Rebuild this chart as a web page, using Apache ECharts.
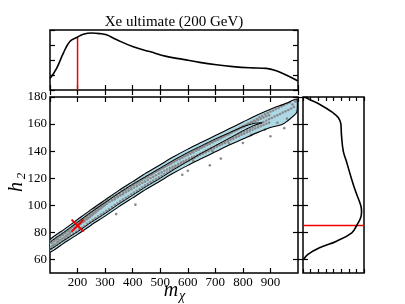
<!DOCTYPE html>
<html>
<head>
<meta charset="utf-8">
<script src="https://cdn.jsdelivr.net/npm/echarts@6/dist/echarts.min.js"></script>
<style>
html,body{margin:0;padding:0;background:#fff;}
#chart{width:405px;height:304px;}
</style>
</head>
<body>
<div id="chart"></div>
<script>
// ---------- data ----------
const titleText = 'Xe ultimate (200 GeV)';
const xTickLabels = [200, 300, 400, 500, 600, 700, 800, 900];
const yTickValues = [60, 80, 100, 120, 140, 160, 180];
const trueMass = 200;
const trueH2 = 85;

// top marginal density over m_chi (normalised)
const topX = [100,124,148,172,199,221,251,281,305,341,402,462,522,583,643,704,764,825,885,921,957,1000];
const topY = [0.19,0.36,0.61,0.81,0.88,0.93,0.95,0.94,0.92,0.84,0.72,0.64,0.56,0.51,0.46,0.42,0.39,0.37,0.36,0.32,0.25,0.15];

// right marginal density over h2 (normalised)
const rightH = [180,178.3,174.6,168.4,164.7,160.3,152.4,140,132.7,120.4,110.5,100.2,95.7,90.8,85.1,79.7,73.5,68.6,63.7,60];
const rightD = [0.03,0.10,0.27,0.49,0.58,0.62,0.63,0.66,0.71,0.79,0.86,0.945,0.96,0.945,0.88,0.80,0.55,0.27,0.08,0.01];

// outer (2 sigma) region
const outerX     = [100,150,200,250,300,350,400,450,500,550,600,650,700,750,800,850,900,940,960,995];
const outerUpper = [74.5,82,89.5,97,104,111,117.5,124,130,136,141.5,146.5,151.5,156.5,161.5,166.5,171,174,175.5,178.5];
const outerLower = [65.5,72,78.5,85.5,92,99,105.5,112,118,124,129.5,134.5,139.5,144.5,149,153.5,157.5,159.5,162,168.5];

// inner (1 sigma) region
const innerX     = [100,150,200,250,300,350,400,450,500,550,600,650,700,750,800,840,870];
const innerUpper = [72.5,80,87.5,95,102,109,115.5,121.5,127.5,133.5,139,144,149,153.5,158,160.5,161];
const innerLower = [67.5,74,80.5,87.5,94,101,107.5,114,120,126.5,132.5,138.5,144,149.5,155,159,161];

// posterior samples (m_chi, h2)
const samples = [
[105,69.5],[108,72],[112,70.2],[115,73.5],[118,71],[122,74.8],[125,72.5],[128,75],[131,73.2],[135,76.5],
[138,74.6],[142,77.8],[145,75.5],[148,78.3],[152,76.2],[155,79.6],[158,77.4],[162,80.8],[165,78.5],[168,81.5],
[172,79.8],[175,83],[178,80.6],[182,84.2],[185,82],[188,85.5],[192,83.1],[195,86.6],[198,84.2],[202,87],
[205,85.1],[208,88.2],[212,86.3],[215,89.4],[218,87.5],[222,90.2],[225,88.1],[228,91.5],[232,89.6],[235,92.7],
[238,90.5],[242,93.6],[245,91.4],[248,94.8],[252,92.6],[255,95.3],[258,93.8],[262,97],[265,94.7],[268,97.9],
[272,96],[275,98.8],[278,97],[282,100.2],[285,97.8],[288,101],[292,99.2],[295,102.1],[298,100],[302,103.2],
[305,101.1],[310,103.8],[315,102.4],[320,105.6],[325,103.5],[330,106.9],[335,104.4],[340,93.5],[340,108],[345,106],
[350,109.1],[355,107.2],[360,110.5],[365,108.1],[370,111.7],[375,109.6],[380,113],[385,110.8],[390,114.1],[395,111.9],
[400,115.3],[405,113],[410,100.5],[410,116.6],[415,114.2],[420,117.5],[425,115.4],[430,118.9],[435,116.6],[440,120.1],
[445,117.5],[450,121.3],[455,118.8],[460,122.5],[465,120.1],[470,123.2],[475,121],[480,124.6],[485,122.2],[490,125.8],
[495,123.4],[500,126.6],[505,124.3],[510,127.9],[515,125.5],[520,128.8],[525,126.4],[530,130],[535,127.5],[540,131],
[545,128.4],[550,132.1],[555,129.3],[560,133.2],[565,130.5],[570,134],[575,131.5],[580,122.5],[580,135.2],[585,132.5],
[590,136.3],[595,133.4],[600,125.5],[600,137.1],[605,134.5],[610,138.2],[615,135.4],[620,139],[620,133],[625,136.1],
[630,140.4],[635,137.2],[640,141.3],[645,138.1],[650,142.5],[655,139],[660,143.4],[665,140.2],[670,144.6],[675,141.1],
[680,129.5],[680,145.4],[685,142.3],[690,146.5],[690,140],[695,143.1],[700,147.6],[705,144.2],[710,148.4],[715,145],
[720,134.5],[720,149.5],[725,146.2],[730,150.6],[735,147],[740,151.8],[745,148.2],[750,152.5],[750,145.8],[755,149.4],
[760,153.8],[765,150.2],[770,154.9],[775,151.4],[780,156],[785,152.5],[790,157.2],[795,153.4],[800,158.4],[800,146],
[805,154.5],[810,159.3],[815,155.7],[820,160.4],[825,156.5],[830,161.5],[830,152],[835,157.6],[840,162.6],[845,158.8],
[850,163.8],[855,159.6],[860,165],[865,160.7],[870,166],[875,161.5],[880,167.2],[880,156],[885,162.6],[890,168.1],
[895,163.8],[900,169.2],[900,151],[905,164.5],[910,170],[915,165.6],[920,171.2],[925,166.5],[925,161],[930,172],
[935,167.4],[940,173.1],[945,168.6],[950,157],[950,174],[955,169.5],[960,175.2],[960,164],[965,170.4],[970,176],
[975,171.5],[980,174.5],[985,172.6],[990,176.8],
[105,67.9],[105,73.3],[115,69.5],[115,74.7],[125,70.7],[125,76.3],[135,72.1],[135,77.5],[145,73.6],[145,78.9],
[155,74.9],[155,80.1],[165,76.3],[165,81.7],[175,77.9],[175,83.1],[185,79.1],[185,84.4],[195,80.5],[195,85.9],
[205,81.9],[205,87.4],[215,83.4],[215,88.8],[225,84.7],[225,90.2],[235,86.3],[235,91.6],[245,87.7],[245,93.1],
[255,89.1],[255,94.5],[265,90.4],[265,95.9],[275,91.8],[275,97.3],[285,93.2],[285,98.6],[295,94.4],[295,99.9],
[305,95.9],[305,101.3],[315,97.3],[315,102.6],[325,98.7],[325,104.1],[335,100.2],[335,105.5],[345,101.5],[345,106.9],
[355,102.9],[355,108.2],[365,104.2],[365,109.6],[375,105.5],[375,110.9],[385,106.7],[385,112.2],[395,108.1],[395,113.5],
[405,109.4],[405,114.8],[415,110.8],[415,116.1],[425,112],[425,117.4],[435,113.3],[435,118.8],[445,114.6],[445,120],
[455,115.8],[455,121.1],[465,117.1],[465,122.4],[475,118.2],[475,123.6],[485,119.4],[485,124.9],[495,120.6],[495,126],
[505,121.8],[505,127.2],[515,123.1],[515,128.4],[525,124.2],[525,129.6],[535,125.4],[535,130.8],[545,126.7],[545,132],
[555,127.8],[555,133.2],[565,128.9],[565,134.4],[575,130.1],[575,135.4],[585,131.1],[585,136.5],[595,132.2],[595,137.7],
[605,133.2],[605,138.6],[615,134.3],[615,139.6],[625,135.2],[625,140.7],[635,136.2],[635,141.6],[645,137.3],[645,142.6],
[655,138.2],[655,143.6],[665,139.1],[665,144.7],[675,140.2],[675,145.6],[685,141.3],[685,146.6],[695,142.2],[695,147.7],
[705,143.2],[705,148.6],[715,144.3],[715,149.6],[725,145.2],[725,150.7],[735,146.1],[735,151.6],[745,147.2],[745,152.6],
[755,148.3],[755,153.6],[765,149.1],[765,154.6],[775,150.2],[775,155.5],[785,151],[785,156.4],[795,152.1],[795,157.4],
[805,152.9],[805,158.3],[815,154],[815,159.4],[825,154.8],[825,160.2],[835,155.9],[835,161.3],[845,156.7],[845,162.1],
[855,157.6],[855,163.1],[865,158.5],[865,164],[875,159.4],[875,164.8],[885,160.2],[885,165.8],[895,161.1],[895,166.5]
];

// ---------- chart ----------
const FONT = 'Liberation Serif';
const chart = echarts.init(document.getElementById('chart'), null, {renderer: 'canvas'});

const tickStyle = {show: true, inside: true, length: 5, lineStyle: {color: '#000', width: 1.2}};
const noLine = {show: false};
const grids = [
  {left: 50, top: 30, width: 248, height: 60},
  {left: 50, top: 97, width: 248, height: 176},
  {left: 303, top: 97, width: 61, height: 176}
].map(g => Object.assign(g, {show: true, borderColor: '#000', borderWidth: 1.5, backgroundColor: 'transparent', containLabel: false}));

function massAxis(gi, pos, labels) {
  return {
    type: 'value', gridIndex: gi, position: pos, min: 100, max: 1000, interval: 100,
    axisLine: noLine, splitLine: {show: false}, axisTick: tickStyle,
    axisLabel: labels ? {show: true, color: '#000', fontFamily: FONT, fontSize: 13, margin: 3,
      showMinLabel: false, showMaxLabel: false,
      formatter: v => xTickLabels.indexOf(v) >= 0 ? String(v) : ''} : {show: false}
  };
}
function h2Axis(gi, pos, labels) {
  return {
    type: 'value', gridIndex: gi, position: pos, min: 50, max: 180,
    axisLine: noLine, splitLine: {show: false},
    axisTick: Object.assign({customValues: yTickValues}, tickStyle),
    axisLabel: labels ? {show: true, color: '#000', fontFamily: FONT, fontSize: 13, margin: 3,
      customValues: yTickValues} : {show: false}
  };
}
function densAxisX(gi, pos) {
  return {type: 'value', gridIndex: gi, position: pos, min: 0, max: 1, interval: 0.125,
    axisLine: noLine, splitLine: {show: false}, axisTick: {show: true, inside: true, length: 4, lineStyle: {color: '#000', width: 1.2}},
    axisLabel: {show: false}};
}
function densAxisY(gi, pos) {
  return {type: 'value', gridIndex: gi, position: pos, min: 0, max: 1, interval: 0.25,
    axisLine: noLine, splitLine: {show: false}, axisTick: tickStyle, axisLabel: {show: false}};
}

function polygonSeries(xs, up, lo, fill, stroke, lw, z) {
  return {
    type: 'custom', xAxisIndex: 2, yAxisIndex: 2, z: z, silent: true,
    clip: true, data: [[500, 100]],
    renderItem: (params, api) => {
      const pts = [];
      for (let i = 0; i < xs.length; i++) pts.push(api.coord([xs[i], up[i]]));
      for (let i = xs.length - 1; i >= 0; i--) pts.push(api.coord([xs[i], lo[i]]));
      const style = {lineWidth: lw};
      style.fill = fill ? fill : 'transparent';
      style.stroke = stroke ? stroke : 'transparent';
      return {type: 'polygon', z2: 0, shape: {points: pts, smooth: 0.2}, style: style};
    }
  };
}

const option = {
  animation: false,
  backgroundColor: '#fff',
  grid: grids,
  xAxis: [
    massAxis(0, 'bottom', false), massAxis(0, 'top', false),
    massAxis(1, 'bottom', true), massAxis(1, 'top', false),
    densAxisX(2, 'bottom'), densAxisX(2, 'top')
  ],
  yAxis: [
    densAxisY(0, 'left'), densAxisY(0, 'right'),
    h2Axis(1, 'left', true), h2Axis(1, 'right', false),
    h2Axis(2, 'left', false), h2Axis(2, 'right', false)
  ],
  series: [
    {type: 'line', xAxisIndex: 0, yAxisIndex: 0, data: topX.map((x, i) => [x, topY[i]]),
      smooth: 0.4, symbol: 'none', lineStyle: {color: '#000', width: 1.6}, z: 3},
    {type: 'line', xAxisIndex: 0, yAxisIndex: 0, data: [[trueMass, 0], [trueMass, topY[4]]],
      symbol: 'none', lineStyle: {color: '#ee0000', width: 1.5}, z: 2},
    {type: 'line', xAxisIndex: 4, yAxisIndex: 4, data: rightH.map((h, i) => [rightD[i], h]),
      smooth: 0.4, symbol: 'none', lineStyle: {color: '#000', width: 1.6}, z: 3},
    {type: 'line', xAxisIndex: 4, yAxisIndex: 4, data: [[0, trueH2], [1, trueH2]],
      symbol: 'none', lineStyle: {color: '#ee0000', width: 1.5}, z: 2},
    polygonSeries(outerX, outerUpper, outerLower, '#add8e6', null, 0, 1),
    {type: 'scatter', xAxisIndex: 2, yAxisIndex: 2, data: samples, symbolSize: 2.6, symbol: 'circle',
      itemStyle: {color: '#8a8a8a', opacity: 1}, z: 10, silent: true, large: false},
    polygonSeries(outerX, outerUpper, outerLower, null, '#000', 1.1, 12),
    polygonSeries(innerX, innerUpper, innerLower, null, '#000', 1.0, 12),
    {type: 'custom', xAxisIndex: 2, yAxisIndex: 2, z: 15, data: [[trueMass, trueH2]],
      renderItem: (params, api) => {
        const p = api.coord([api.value(0), api.value(1)]);
        const s = 6;
        const st = {stroke: '#ee0000', lineWidth: 2};
        return {type: 'group', children: [
          {type: 'line', shape: {x1: p[0]-s, y1: p[1]-s, x2: p[0]+s, y2: p[1]+s}, style: st},
          {type: 'line', shape: {x1: p[0]-s, y1: p[1]+s, x2: p[0]+s, y2: p[1]-s}, style: st}
        ]};
      }}
  ],
  graphic: [
    {type: 'text', x: 174, y: 22, style: {text: titleText, font: '15px "Liberation Serif"', fill: '#000', textAlign: 'center', textVerticalAlign: 'middle'}},
    {type: 'text', x: 171, y: 291, style: {text: 'm', font: 'italic 20px "Liberation Serif"', fill: '#000', textAlign: 'center', textVerticalAlign: 'middle'}},
    {type: 'text', x: 182, y: 296, style: {text: 'χ', font: 'italic 14px "Liberation Serif"', fill: '#000', textAlign: 'center', textVerticalAlign: 'middle'}},
    {type: 'text', x: 17, y: 187, rotation: Math.PI / 2, style: {text: 'h', font: 'italic 20px "Liberation Serif"', fill: '#000', textAlign: 'center', textVerticalAlign: 'middle'}},
    {type: 'text', x: 22, y: 176, rotation: Math.PI / 2, style: {text: '2', font: 'italic 13px "Liberation Serif"', fill: '#000', textAlign: 'center', textVerticalAlign: 'middle'}}
  ]
};
chart.setOption(option);
</script>
</body>
</html>
